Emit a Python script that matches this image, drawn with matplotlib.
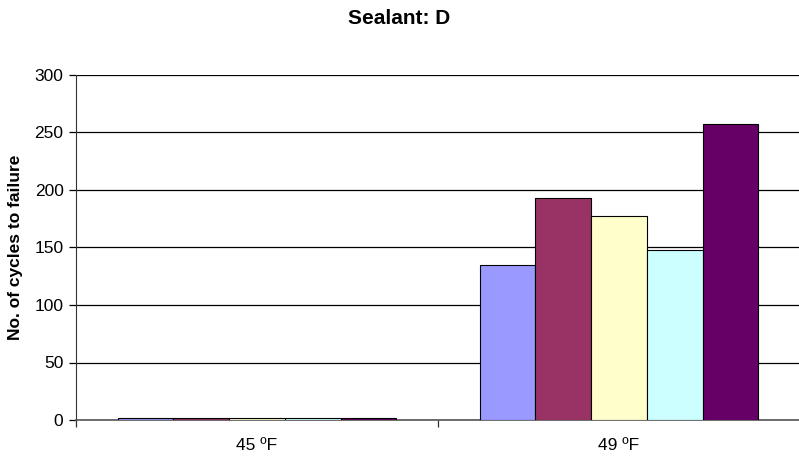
'''
Sealant D - cycles to failure bar chart
'''

import numpy as np
import matplotlib
matplotlib.use('Agg')
import matplotlib.pyplot as plt
from matplotlib.ticker import FixedLocator, NullFormatter

plt.rcParams['font.family'] = ['Liberation Sans', 'DejaVu Sans']

temps = ['45 ºF', '49 ºF']
# one series per specimen
spec1 = [2, 135]
spec2 = [2, 193]
spec3 = [2, 177]
spec4 = [2, 148]
spec5 = [2, 257]
colors = ['#9999FF', '#993366', '#FFFFCC', '#CCFFFF', '#660066']

series = [spec1, spec2, spec3, spec4, spec5]

fig = plt.figure(figsize=(7.99, 4.59), dpi=100)
ax = fig.add_axes([76/799, 39/459, 724/799, 345/459])

x = np.arange(len(temps))
w = 1/6.5  # excel gap width 150%
for i, (vals, col) in enumerate(zip(series, colors)):
    ax.bar(x + (i - 2) * w, vals, width=w, color=col, edgecolor='black',
           linewidth=0.8, zorder=3)

ax.set_xlim(-0.5, 1.5)
ax.set_ylim(0, 300)
ax.set_yticks(np.arange(0, 301, 50))
ax.yaxis.grid(True, color='black', linewidth=0.9, zorder=0)
ax.set_axisbelow(True)

# category boundaries get ticks, centres get labels
ax.xaxis.set_major_locator(FixedLocator([-0.5, 0.5, 1.5]))
ax.xaxis.set_major_formatter(NullFormatter())
ax.xaxis.set_minor_locator(FixedLocator(x))
ax.set_xticklabels(temps, minor=True)
ax.tick_params(axis='x', which='minor', length=0, pad=13, labelsize=12.5)
ax.tick_params(axis='x', which='major', length=5, width=0.9, color='#333333')
ax.tick_params(axis='y', length=5, width=0.9, labelsize=12.5, pad=4)

for s in ['top', 'right']:
    ax.spines[s].set_visible(False)
ax.spines['left'].set_color('#333333')
ax.spines['bottom'].set_color('#555555')
ax.spines['bottom'].set_linewidth(1.2)

ax.set_ylabel('No. of cycles to failure', fontsize=12.5, fontweight='bold', labelpad=8)
fig.text(0.5, 1 - 18/459, 'Sealant: D', ha='center', va='center',
         fontsize=15, fontweight='bold')

plt.savefig('out.png', dpi=100)
